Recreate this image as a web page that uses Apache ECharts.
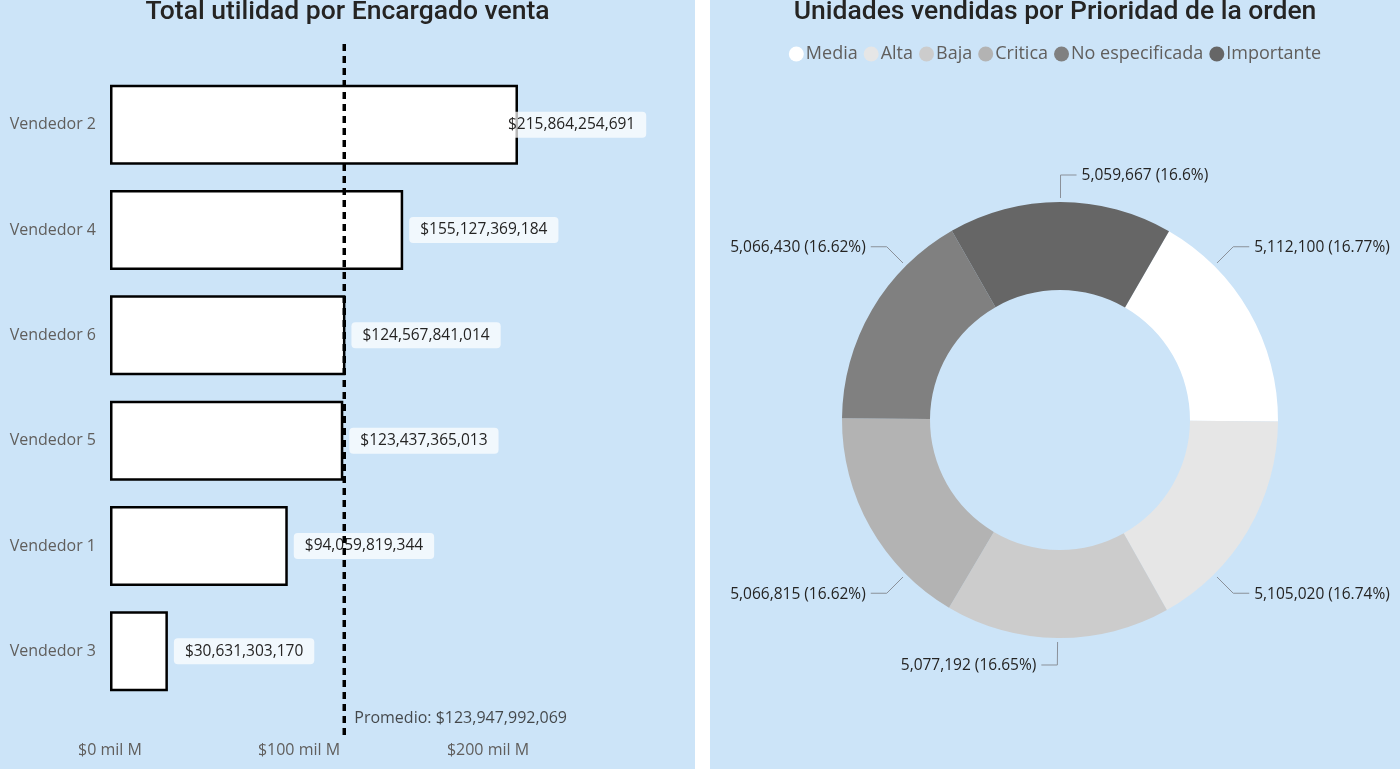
<!DOCTYPE html>
<html>
<head>
<meta charset="utf-8">
<script src="https://cdn.jsdelivr.net/npm/echarts@6/dist/echarts.min.js"></script>
<style>
  html, body { margin: 0; padding: 0; background: #ffffff; width: 1400px; height: 769px; overflow: hidden; }
  #left { position: absolute; left: 0; top: 0; width: 695px; height: 769px; background: #cce4f8; }
  #right { position: absolute; left: 710px; top: 0; width: 690px; height: 769px; background: #cce4f8; }
</style>
</head>
<body>
<div id="left"></div>
<div id="right"></div>
<script>
// ---- Data ----
const sellers = ['Vendedor 2', 'Vendedor 4', 'Vendedor 6', 'Vendedor 5', 'Vendedor 1', 'Vendedor 3'];
const profit = [215864254691, 155127369184, 124567841014, 123437365013, 94059819344, 30631303170];
const profitAverage = 123947992069;
const xTicks = [0, 100e9, 200e9, 300e9];

const priorities = ['Media', 'Alta', 'Baja', 'Critica', 'No especificada', 'Importante'];
const units = [5112100, 5105020, 5077192, 5066815, 5066430, 5059667];
const priorityColors = ['#ffffff', '#e6e6e6', '#cccccc', '#b3b3b3', '#808080', '#666666'];

const FONT = '"Open Sans", "Noto Sans", sans-serif';
const TITLE_FONT = 'Roboto, "Noto Sans", sans-serif';
const money = v => '$' + Math.round(v).toLocaleString('en-US');

// ---- Left chart ----
const left = echarts.init(document.getElementById('left'), null, { renderer: 'canvas' });
const xMin = xTicks[0], xMax = xTicks[xTicks.length - 1], xInt = xTicks[1] - xTicks[0];
left.setOption({
  backgroundColor: 'transparent',
  textStyle: { fontFamily: FONT },
  title: {
    text: 'Total utilidad por Encargado venta',
    left: 'center', top: -6,
    textStyle: { fontFamily: TITLE_FONT, fontSize: 26.5, fontWeight: 500, color: '#252423' }
  },
  grid: [
    { left: 110, right: 18, top: 72, bottom: 65 },
    { left: 110, right: 18, top: 40, bottom: 34 }
  ],
  xAxis: [
    { gridIndex: 0, type: 'value', min: xMin, max: xMax, interval: xInt, show: false, splitLine: { show: false } },
    { gridIndex: 1, type: 'value', min: xMin, max: xMax, interval: xInt,
      axisLine: { show: false }, axisTick: { show: false }, splitLine: { show: false },
      axisLabel: { showMaxLabel: false, color: '#605e5c', fontSize: 16, margin: 7, fontFamily: FONT,
        formatter: v => '$' + (v / 1e9) + ' mil M' } }
  ],
  yAxis: [
    { gridIndex: 0, type: 'category', inverse: true, data: sellers,
      axisLine: { show: false }, axisTick: { show: false },
      axisLabel: { color: '#605e5c', fontSize: 16, margin: 14, fontFamily: FONT } },
    { gridIndex: 1, type: 'value', min: 0, max: 1, show: false }
  ],
  series: [
    {
      type: 'bar', xAxisIndex: 0, yAxisIndex: 0,
      barCategoryGap: '24%',
      data: profit.map(v => ({
        value: v,
        label: v > 200e9 ? { offset: [-27, 0] } : undefined
      })),
      itemStyle: { color: '#ffffff', borderColor: '#000000', borderWidth: 2.5 },
      label: {
        show: true, position: 'right', distance: 6,
        formatter: p => money(p.value),
        color: '#252423', fontSize: 15.5, fontFamily: FONT,
        backgroundColor: 'rgba(255,255,255,0.72)', padding: [5, 11, 5, 11], borderRadius: 4
      },
      silent: true
    },
    {
      type: 'line', xAxisIndex: 1, yAxisIndex: 1,
      data: [[profitAverage, 0], [profitAverage, 1]],
      symbol: 'none',
      lineStyle: { color: '#000000', width: 3.5, type: [7, 5] },
      silent: true, z: 5
    },
    {
      type: 'scatter', xAxisIndex: 1, yAxisIndex: 1,
      data: [[profitAverage, 0]],
      symbolSize: 0,
      label: {
        show: true, position: 'right', distance: 10, offset: [0, -17],
        formatter: () => 'Promedio: ' + money(profitAverage),
        color: '#201f1e', fontSize: 16, fontFamily: FONT
      },
      silent: true
    }
  ]
});

// ---- Right chart ----
const PIE_CENTER = [350, 420];
const PIE_R = [130, 218];
const START_DEG = 30; // clockwise from 12 o'clock
const totalUnits = units.reduce((a, b) => a + b, 0);
function displayAngle(i) {
  let before = 0;
  for (let k = 0; k < i; k++) before += units[k];
  let mid = START_DEG + (before + units[i] / 2) / totalUnits * 360;
  mid = ((mid % 360) + 360) % 360;
  const near180 = Math.min(Math.abs(mid), Math.abs(mid - 180), Math.abs(mid - 360));
  if (near180 < 20) return mid;
  return Math.round((mid - 45) / 90) * 90 + 45;
}

const right = echarts.init(document.getElementById('right'), null, { renderer: 'canvas' });
right.setOption({
  backgroundColor: 'transparent',
  textStyle: { fontFamily: FONT },
  color: priorityColors,
  title: {
    text: 'Unidades vendidas por Prioridad de la orden',
    left: 'center', top: -6,
    textStyle: { fontFamily: TITLE_FONT, fontSize: 26.5, fontWeight: 500, color: '#252423' }
  },
  legend: {
    data: priorities, top: 40, left: 'center',
    icon: 'circle', itemWidth: 15, itemHeight: 15, itemGap: 6,
    textStyle: { color: '#605e5c', fontSize: 18, fontFamily: FONT, padding: [0, 0, 0, -3] },
    selectedMode: false
  },
  series: [{
    type: 'pie',
    radius: PIE_R,
    center: PIE_CENTER,
    startAngle: 90 - START_DEG,
    clockwise: true,
    data: priorities.map((n, i) => ({ name: n, value: units[i] })),
    itemStyle: { borderWidth: 0 },
    label: {
      show: true, position: 'outside', overflow: 'none',
      formatter: p => p.value.toLocaleString('en-US') + ' (' + Number(p.percent.toFixed(2)) + '%)',
      color: '#252423', fontSize: 15.5, fontFamily: FONT
    },
    labelLine: { show: true, length: 22, length2: 16, smooth: false, lineStyle: { color: '#8a9099', width: 1 } },
    labelLayout: function (params) {
      const a = displayAngle(params.dataIndex) * Math.PI / 180;
      const dx = Math.sin(a), dy = -Math.cos(a);
      const R = PIE_R[1];
      const p0 = [PIE_CENTER[0] + (R + 4) * dx, PIE_CENTER[1] + (R + 4) * dy];
      const p1 = [PIE_CENTER[0] + (R + 27) * dx, PIE_CENTER[1] + (R + 27) * dy];
      const side = dx >= -0.01 ? 1 : -1;
      const p2 = [p1[0] + side * 16, p1[1]];
      return {
        x: p2[0] + side * 5,
        y: p2[1] + 1,
        align: side > 0 ? 'left' : 'right',
        verticalAlign: 'middle',
        labelLinePoints: [p0, p1, p2]
      };
    },
    emphasis: { disabled: true },
    silent: true
  }]
});
</script>
</body>
</html>
